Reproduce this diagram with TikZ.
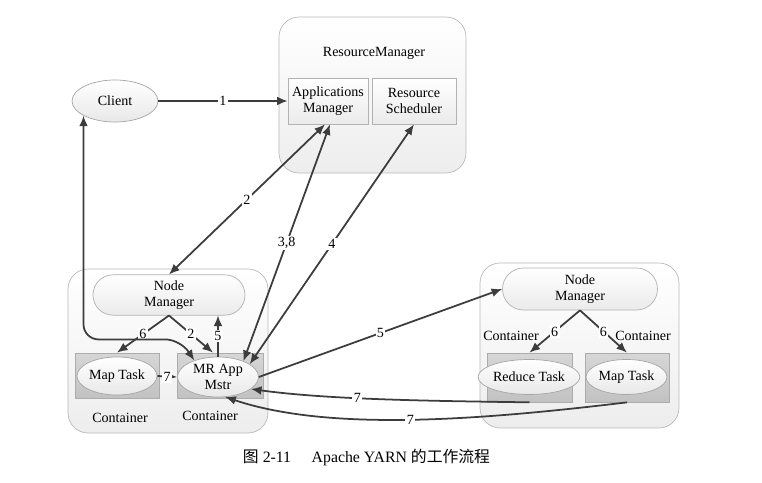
\documentclass[tikz,border=0pt]{standalone}
\usepackage{fontspec}
\setmainfont{Liberation Serif}
\newfontfamily\cjkfont{Noto Sans CJK SC}
\usetikzlibrary{shapes.geometric,arrows.meta,calc}
\definecolor{linegray}{HTML}{3C3C3C}
\begin{document}
\begin{tikzpicture}[x = 0.02cm, y = -0.02cm,
  font = \fontsize{8}{9}\selectfont,
  outer/.style = {draw = gray!55, rounded corners = 0.4cm, top color = white, bottom color = gray!14},
  box/.style = {draw = gray!60, top color = white, bottom color = gray!16, align = center, inner sep = 1pt},
  pill/.style = {draw = gray!60, rounded corners = 0.4cm, top color = white, bottom color = gray!16, align = center},
  cont/.style = {draw = gray!65, top color = gray!32, bottom color = gray!48},
  oval/.style = {ellipse, draw = gray!70, top color = white, bottom color = gray!18, align = center, inner sep = 0pt},
  arr/.style = {draw = linegray, line width = 1pt, -{Latex[length=6pt,width=5pt]}},
  both/.style = {arr, {Latex[length=6pt,width=5pt]}-{Latex[length=6pt,width=5pt]}},
  num/.style = {fill = white, inner sep = 0.8pt}]
\useasboundingbox (0, 0) rectangle (762, 483);

% resource manager
\node[outer, minimum width = 3.74cm, minimum height = 3.12cm] (rm) at (372.5, 95) {};
\node (rmtitle) at (374, 53) {ResourceManager};
\node[box, minimum width = 1.6cm, minimum height = 0.92cm] (am) at (328, 101) {Applications\\Manager};
\node[box, minimum width = 1.68cm, minimum height = 0.92cm] (rs) at (414, 101) {Resource\\Scheduler};

\node[oval, minimum width = 1.72cm, minimum height = 0.84cm] (client) at (115, 101) {Client};

% left node
\node[outer, minimum width = 4cm, minimum height = 3.28cm] (lbox) at (168, 351) {};
\node[pill, minimum width = 3.04cm, minimum height = 0.8cm] (lnm) at (169, 295) {Node\\Manager};
\node[cont, minimum width = 1.68cm, minimum height = 0.9cm] (lmapc) at (117, 375.5) {};
\node[oval, minimum width = 1.6cm, minimum height = 0.76cm] (lmap) at (117, 376) {Map Task};
\node[cont, minimum width = 1.72cm, minimum height = 0.9cm] (mrc) at (220, 375.5) {};
\node[oval, minimum width = 1.62cm, minimum height = 0.8cm] (mr) at (218, 377) {MR App\\Mstr};
\node (lcont1) at (120, 418) {Container};
\node (lcont2) at (210, 416) {Container};

% right node
\node[outer, minimum width = 3.98cm, minimum height = 3.3cm] (rbox) at (579.5, 345.5) {};
\node[pill, minimum width = 3.1cm, minimum height = 0.84cm, rounded corners = 0.42cm] (rnm) at (580, 289) {Node\\Manager};
\node[cont, minimum width = 1.7cm, minimum height = 0.98cm] (redc) at (529.5, 377.5) {};
\node[oval, minimum width = 1.64cm, minimum height = 0.7cm] (red) at (529, 377) {Reduce Task};
\node[cont, minimum width = 1.68cm, minimum height = 0.98cm] (rmapc) at (627, 377.5) {};
\node[oval, minimum width = 1.62cm, minimum height = 0.7cm] (rmap) at (626.5, 377) {Map Task};
\node (rcont1) at (511, 336) {Container};
\node (rcont2) at (643, 336) {Container};

% connectors
\draw[arr] (client) -- node[num] {1} (am);
\draw[both] ($(am.south) + (-3, 0)$) -- node[num] {2} (lnm.north);
\draw[both] ($(am.south) + (2, 0)$) -- node[num] {3,8} (mr.32);
\draw[both] (rs.south) -- node[num] {4} (mr.22);
\draw[arr] (lnm.south) -- node[num] {6} (lmapc.north);
\draw[arr] (lnm.south) -- node[num] {2} ($(mrc.north) + (-7, 0)$);
\draw[arr] (mr.north) -- node[num] {5} (mr.north |- lnm.south);
\draw[arr] (lmap.east) -- node[num] {7} (mr.west);
\draw[both, rounded corners = 0.3cm] (client.205) |- ($(mr.145) + (-14, -21)$) -- (mr.145);

\draw[arr] (mr.east) -- node[num] {5} (rnm.west);
\draw[arr] (rnm.south) -- node[num] {6} (redc.north);
\draw[arr] (rnm.south) -- node[num] {6} (rmapc.north);
\draw[arr] (redc.south) .. controls (440, 401) and (330, 400) .. node[num, pos = 0.6] {7} (mr.-20);
\draw[arr] (rmapc.south) .. controls (480, 420) and (330, 432) .. node[num] {7} (mr.-70);

\node (caption) at (366.5, 458) {\fontsize{9}{10}\selectfont{\cjkfont 图} 2-11\hspace{1.3em}Apache YARN {\cjkfont 的工作流程}};
\end{tikzpicture}
\end{document}
